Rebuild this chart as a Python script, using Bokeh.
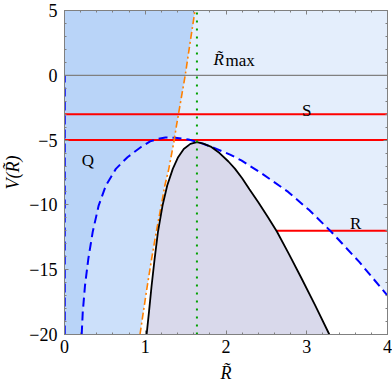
from bokeh.plotting import figure
from bokeh.models import FixedTicker, CustomJSTickFormatter, LinearAxis
from bokeh.core.properties import value
from bokeh.embed import file_html
from bokeh.resources import INLINE

# ---------------- data ----------------
# solid black potential curve V(R)
black_x = [1.017, 1.046, 1.079, 1.116, 1.157, 1.214, 1.272, 1.341, 1.407, 1.477, 1.559, 1.64,
           1.72, 1.81, 1.92, 2.03, 2.11, 2.20, 2.29, 2.40, 2.52, 2.63, 2.78, 2.93, 3.10, 3.28]
black_y = [-20.0, -18.28, -16.22, -14.16, -12.1, -10.05, -8.5, -7.22, -6.32, -5.68, -5.29, -5.16,
           -5.27, -5.5, -6.0, -6.65, -7.2, -7.95, -8.8, -9.8, -10.95, -12.05, -13.8, -15.6, -17.7, -20.0]

# blue dashed curve
dashed_x = [0.213, 0.226, 0.254, 0.295, 0.349, 0.423, 0.513, 0.636, 0.78, 0.944, 1.06, 1.149,
            1.25, 1.37, 1.535, 1.70, 1.86, 2.05, 2.19, 2.45, 2.77, 3.03, 3.30, 3.65, 4.0]
dashed_y = [-20.0, -18.28, -16.22, -14.16, -12.1, -10.05, -8.5, -7.22, -6.32, -5.55, -5.1, -4.92,
            -4.8, -4.82, -4.95, -5.25, -5.62, -6.12, -6.57, -7.6, -9.0, -10.4, -12.05, -14.4, -17.0]

# orange dash-dot curve
orange_x = [0.935, 0.976, 1.026, 1.079, 1.136, 1.198, 1.243, 1.292, 1.354, 1.387, 1.43, 1.495, 1.555, 1.616]
orange_y = [-20.0, -18.28, -16.22, -14.16, -12.1, -10.05, -8.5, -7.22, -5.16, -3.87, -2.33, 0.0, 2.5, 5.0]

r_max = 1.64                # green dotted vertical
level_S = -3.0              # red line S
level_Q = -5.0              # red line Q
level_R = -12.0             # red line R
R_start = 2.63              # start of line R

x_ticks = [0, 1, 2, 3, 4]
y_ticks = [-20, -15, -10, -5, 0, 5]
x_minor = [i / 5 for i in range(0, 21)]
y_minor = list(range(-20, 6))

labels_text = ["Q", "S", "R"]
labels_x = [0.29, 3.0, 3.606]
labels_y = [-6.57, -2.72, -11.46]

X_MIN, X_MAX, Y_MIN, Y_MAX = 0, 4, -20, 5

# ---------------- figure ----------------
SERIF = "Liberation Serif"
GRAY = "#808080"

p = figure(width=392, height=388, x_range=(X_MIN, X_MAX), y_range=(Y_MIN, Y_MAX),
           output_backend="svg", toolbar_location=None,
           min_border_left=62, min_border_right=5, min_border_top=10, min_border_bottom=54)
p.grid.visible = False
p.outline_line_color = GRAY
p.background_fill_color = "white"

# filled regions
p.patch(black_x, black_y, fill_color="#d9d9eb", line_color=None)
p.patch([X_MIN] + dashed_x + [X_MAX, X_MIN], [Y_MIN] + dashed_y + [Y_MAX, Y_MAX],
        fill_color="#5598ee", fill_alpha=0.16, line_color=None)
p.patch([X_MIN] + orange_x + [X_MIN], [Y_MIN] + orange_y + [Y_MAX],
        fill_color="#5598ee", fill_alpha=0.30, line_color=None)

# horizontal lines
p.line([X_MIN, X_MAX], [0, 0], line_color=GRAY, line_width=1.2)
p.line([X_MIN, X_MAX], [level_S, level_S], line_color="#ff0000", line_width=2)
p.line([X_MIN, X_MAX], [level_Q, level_Q], line_color="#ff0000", line_width=2)
p.line([R_start, X_MAX], [level_R, level_R], line_color="#ff0000", line_width=2)

# curves
p.line(dashed_x, dashed_y, line_color="#0000ff", line_width=2, line_dash="9 5")
p.line([X_MIN, X_MIN], [Y_MIN, 0], line_color="#0000ff", line_width=2.5, line_dash="9 5")
p.line(orange_x, orange_y, line_color="#ff8000", line_width=1.6, line_dash="7 3 2 3")
p.line(black_x, black_y, line_color="black", line_width=1.8)
p.line([r_max, r_max], [Y_MIN, Y_MAX], line_color="#00a000", line_width=2, line_dash="2 6")

# text labels
p.text(labels_x, labels_y, text=labels_text, text_font=value(SERIF), text_font_size="17px",
       text_align="center", text_baseline="alphabetic", text_color="black")
p.text([1.845], [1.22], text=["R\u0303"], text_font=value(SERIF), text_font_size="17px",
       text_font_style="italic", text_align="left", text_baseline="alphabetic")
p.text([1.995], [1.14], text=["max"], text_font=value(SERIF), text_font_size="17px",
       text_align="left", text_baseline="alphabetic")

# axes
fmt = CustomJSTickFormatter(code="return (tick < 0 ? '\u2212' : '') + Math.abs(tick);")
blank = CustomJSTickFormatter(code="return '';")
p.xaxis.ticker = FixedTicker(ticks=x_ticks, minor_ticks=x_minor)
p.yaxis.ticker = FixedTicker(ticks=y_ticks, minor_ticks=y_minor)
p.yaxis.formatter = fmt
p.xaxis.axis_label = "R\u0303"
p.yaxis.axis_label = "V(R\u0303)"

for ax in (p.xaxis[0], p.yaxis[0]):
    ax.axis_line_color = GRAY
    ax.major_tick_line_color = GRAY
    ax.minor_tick_line_color = GRAY
    ax.major_tick_in = 4
    ax.major_tick_out = 0
    ax.minor_tick_in = 2
    ax.minor_tick_out = 0
    ax.major_label_text_font = SERIF
    ax.major_label_text_font_size = "18px"
    ax.major_label_text_color = "black"
    ax.axis_label_text_font = SERIF
    ax.axis_label_text_font_size = "18px"
    ax.axis_label_text_font_style = "italic"
    ax.axis_label_text_color = "black"
p.xaxis.major_label_standoff = 5
p.yaxis.major_label_standoff = 7
p.xaxis.axis_label_standoff = 7
p.yaxis.axis_label_standoff = 3

top = LinearAxis(ticker=FixedTicker(ticks=x_ticks, minor_ticks=x_minor), formatter=blank)
right = LinearAxis(ticker=FixedTicker(ticks=y_ticks, minor_ticks=y_minor), formatter=blank)
for ax in (top, right):
    ax.axis_line_color = GRAY
    ax.major_tick_line_color = GRAY
    ax.minor_tick_line_color = GRAY
    ax.major_tick_in = 4
    ax.major_tick_out = 0
    ax.minor_tick_in = 2
    ax.minor_tick_out = 0
    ax.major_label_standoff = 0
p.add_layout(top, "above")
p.add_layout(right, "right")

open("out.html", "w").write(file_html(p, INLINE))
